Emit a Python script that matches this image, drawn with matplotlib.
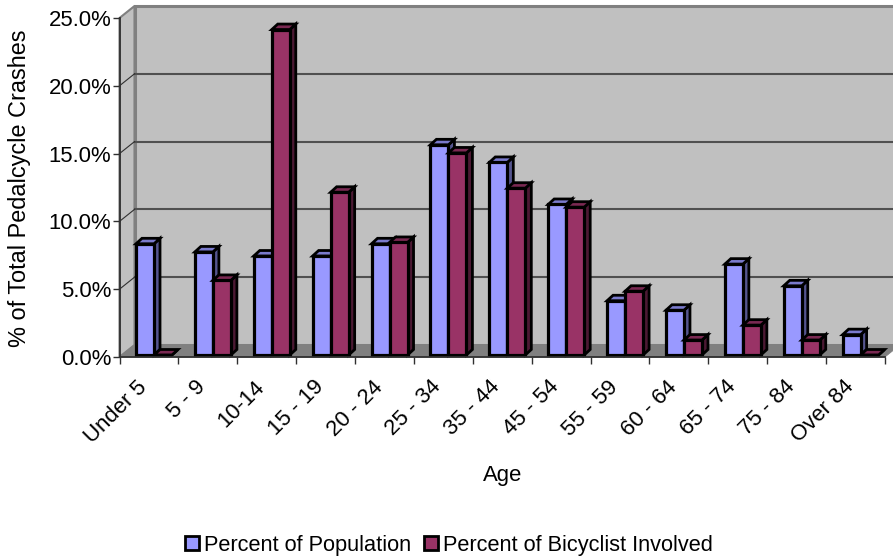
#!/usr/bin/env python3
"""Age breakdown of pedalcycle crashes, drawn as a fake-3D Excel style bar chart."""

import matplotlib
matplotlib.use("Agg")
import matplotlib.pyplot as plt
from matplotlib.patches import Patch, Polygon

plt.rcParams['font.family'] = ['Liberation Sans', 'DejaVu Sans']

age_groups = ["Under 5", "5 - 9", "10-14", "15 - 19", "20 - 24", "25 - 34", "35 - 44",
              "45 - 54", "55 - 59", "60 - 64", "65 - 74", "75 - 84", "Over 84"]
pct_population = [8.2, 7.6, 7.3, 7.3, 8.2, 15.5, 14.2, 11.1, 4.0, 3.3, 6.7, 5.1, 1.5]
pct_bicyclist = [0.0, 5.5, 24.0, 12.0, 8.3, 14.9, 12.3, 10.9, 4.7, 1.1, 2.2, 1.1, 0.0]
y_ticks = [0, 5, 10, 15, 20, 25]

W, H = 893, 560
LEFT, RIGHT, TOP, BOTTOM = 119.5, 885.0, 18.0, 357.0
PX_X = (RIGHT - LEFT) / len(age_groups)
PX_Y = (BOTTOM - TOP) / 25.0
FONT = 15.9


def dx(px):
    return px / PX_X


def dy(px):
    return px / PX_Y


fig = plt.figure(figsize=(W / 100, H / 100), dpi=100, facecolor='white')
ax = fig.add_axes([LEFT / W, 1 - BOTTOM / H, (RIGHT - LEFT) / W, (BOTTOM - TOP) / H])
ax.set_xlim(0, len(age_groups))
ax.set_ylim(0, 25)
ax.patch.set_visible(False)


def poly(points, face, edge=None, lw=0.0, z=1):
    ax.add_patch(Polygon(points, closed=True, facecolor=face, edgecolor=edge or face,
                         linewidth=lw, zorder=z, clip_on=False, joinstyle='miter'))


# walls and floor
n = len(age_groups)
wx, wy = dx(15), dy(12)
poly([(0, 0), (wx, wy), (wx, 25 + wy), (0, 25)], '#c0c0c0', '#808080', 1.5)
poly([(wx, wy), (n + wx, wy), (n + wx, 25 + wy), (wx, 25 + wy)], '#c0c0c0', '#808080', 2.2)
poly([(0, 0), (wx, wy), (n + wx, wy), (n, 0)], '#808080', '#808080', 0.5, z=2)

# gridlines on back wall and the short diagonals on the side wall
for v in y_ticks[1:-1]:
    ax.plot([wx, n + wx], [v + wy, v + wy], color='#505050', lw=1.5, zorder=2, clip_on=False)
for v in y_ticks[1:-1]:
    ax.plot([0, wx], [v, v + wy], color='#303030', lw=0.8, zorder=2, clip_on=False)


def draw_bar(x, val, width, face, side, top, z):
    # front face goes through ax.bar, the side and top are parallelograms behind it
    sx, sy = dx(6), dy(5.5)
    y0 = dy(2)
    edge = 'black'
    poly([(x + width, y0), (x + width + sx, y0 + sy), (x + width + sx, y0 + val + sy),
          (x + width, y0 + val)], side, edge, 2.0, z)
    poly([(x, y0 + val), (x + sx, y0 + val + sy), (x + width + sx, y0 + val + sy),
          (x + width, y0 + val)], top, edge, 2.0, z)
    ax.bar(x, val, width, bottom=y0, align='edge', color=face, edgecolor=edge,
           linewidth=2.3, zorder=z, clip_on=False)


bar_w = dx(18)
for i in range(n):
    x_pop = i + dx(16.5)
    draw_bar(x_pop, pct_population[i], bar_w, '#9999ff', '#55558f', '#7a7acc', 3 + i * 0.1)
    draw_bar(x_pop + bar_w, pct_bicyclist[i], bar_w, '#993366', '#4c1933', '#7a2952',
             3.05 + i * 0.1)

# axes furniture
for name in ('top', 'right'):
    ax.spines[name].set_visible(False)
for name in ('left', 'bottom'):
    ax.spines[name].set_color('#303030')
    ax.spines[name].set_linewidth(1.3)
    ax.spines[name].set_zorder(10)

ax.set_xticks(range(n + 1))
ax.set_xticklabels([''] * (n + 1))
ax.set_yticks(y_ticks)
ax.set_yticklabels([f"{v:.1f}%" for v in y_ticks], fontsize=FONT)
ax.tick_params(axis='both', length=5, width=1.0, color='#303030')
ax.tick_params(axis='y', pad=0.8)

for i, label in enumerate(age_groups):
    ax.annotate(label, xy=(i + 0.5, 0), xycoords='data', xytext=(-9, -14),
                textcoords='offset points', rotation=45, ha='right', va='top',
                rotation_mode='anchor', fontsize=FONT, annotation_clip=False)

fig.text(503 / W, 1 - 476 / H, "Age", fontsize=FONT, ha='center', va='center')
fig.text(20 / W, 1 - 188 / H, "% of Total Pedalcycle Crashes", fontsize=16.9,
         rotation=90, ha='center', va='center')

handles = [Patch(facecolor='#9999ff', edgecolor='black', linewidth=2.0),
           Patch(facecolor='#993366', edgecolor='black', linewidth=2.0)]
fig.legend(handles, ["Percent of Population", "Percent of Bicyclist Involved"],
           loc='center', bbox_to_anchor=(449 / W, 1 - 545 / H), ncol=2, frameon=False,
           fontsize=15.7, handlelength=0.62, handleheight=0.62, handletextpad=0.25,
           columnspacing=0.6, borderpad=0)

fig.savefig("out.png", dpi=100)
